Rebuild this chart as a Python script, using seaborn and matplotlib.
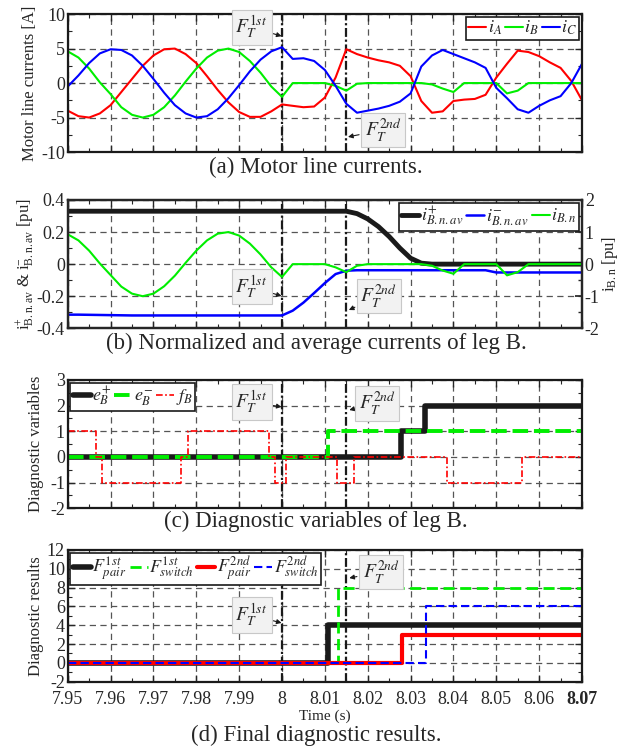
import numpy as np
import seaborn as sns
import matplotlib.pyplot as plt

sns.set_theme(style="ticks")
plt.rcParams['font.family'] = ['Liberation Serif', 'DejaVu Serif']
plt.rcParams['mathtext.fontset'] = 'stix'
plt.rcParams['axes.unicode_minus'] = False

# ---- datos ----
t = np.linspace(7.95, 8.07, 49)   # paso 2.5 ms

i_A = [-4.0, -4.8, -5.0, -4.4, -3.2, -1.3, 0.6, 2.5, 4.0, 4.9, 5.0, 4.2, 2.9, 1.0, -1.0, -2.8,
       -4.2, -4.9, -4.9, -4.1, -3.1,
       -3.3, -3.5, -3.4, -2.1, 0.8, 4.9, 4.2, 3.7, 3.3, 3.0, 2.5, 1.0, -2.6, -4.3, -4.1, -2.6,
       -2.4, -2.3, -1.7, 0.8, 2.8, 4.7, 4.5, 3.9, 3.0, 2.2, 0.3, -2.5]
i_B = [4.6, 3.7, 2.1, 0.1, -1.6, -3.5, -4.6, -5.0, -4.6, -3.5, -1.8, 0.2, 2.1, 3.7, 4.7, 5.0,
       4.5, 3.2, 1.5, -0.5, -2.0,
       0, 0, 0, 0, -0.4, -1.1, -0.1, 0, 0, 0, 0, 0, 0, -0.2, -0.8, -1.3,
       0, 0, 0, 0, -1.5, -1.1, 0, 0, 0, 0, 0, 0]
i_C = [-0.5, 1.1, 2.9, 4.3, 4.9, 4.8, 4.0, 2.5, 0.6, -1.4, -3.2, -4.4, -5.0, -4.8, -3.8, -2.2,
       -0.3, 1.7, 3.4, 4.6, 5.2,
       3.5, 3.6, 3.2, 1.9, -0.4, -3.0, -4.3, -4.0, -3.7, -3.3, -2.7, -1.5, 2.4, 4.0, 4.8, 4.2,
       3.6, 3.0, 2.2, -0.7, -2.2, -3.8, -4.3, -3.3, -2.5, -1.9, 0.0, 2.8]

i_pos_av = [0.33] * 21 + [0.33, 0.33, 0.33, 0.33, 0.33, 0.33, 0.315, 0.282, 0.234, 0.172, 0.10,
                          0.037, 0.006, 0.0, 0.0, 0.0, 0.0, 0.0, 0.0, 0.0, 0.0, 0.0, 0.0, 0.0,
                          0.0, 0.0, 0.0, 0.0]
i_neg_av = [-0.315, -0.315, -0.316, -0.317, -0.318, -0.319, -0.32, -0.32, -0.32, -0.32, -0.32,
            -0.32, -0.32, -0.32, -0.32, -0.32, -0.32, -0.32, -0.32, -0.32, -0.32,
            -0.29, -0.24, -0.18, -0.118, -0.062, -0.041, -0.038, -0.038, -0.038, -0.038, -0.038,
            -0.038, -0.038, -0.038, -0.038, -0.038, -0.038, -0.038, -0.038, -0.052, -0.052,
            -0.052, -0.052, -0.052, -0.052, -0.052, -0.052, -0.052]
i_Bn = [0.93, 0.74, 0.42, 0.02, -0.34, -0.70, -0.92, -1.0, -0.92, -0.69, -0.36, 0.04, 0.42,
        0.74, 0.95, 1.0, 0.89, 0.64, 0.30, -0.10, -0.40,
        0, 0, 0, 0, -0.1, -0.25, -0.05, 0, 0, 0, 0, 0, 0, -0.05, -0.2, -0.3,
        0, 0, 0, 0, -0.35, -0.25, 0, 0, 0, 0, 0, 0]

e_pos_t = [7.95, 8.0278, 8.0334, 8.07]
e_pos_v = [0, 1, 2, 2]
e_neg_t = [7.95, 8.0107, 8.07]
e_neg_v = [0, 1, 1]
f_B_t = [7.95, 7.9566, 7.958, 7.9765, 7.978, 7.997, 7.9983, 8.0009, 8.0128, 8.0167, 8.0384,
         8.0561, 8.07]
f_B_v = [1, 0, -1, 0, 1, 0, -1, 0, -1, 0, -1, 0, 0]

F1p_t, F1p_v = [7.95, 8.0107, 8.07], [0, 4, 4]
F1s_t, F1s_v = [7.95, 8.0130, 8.07], [0, 8, 8]
F2p_t, F2p_v = [7.95, 8.0281, 8.07], [0, 3, 3]
F2s_t, F2s_v = [7.95, 8.0337, 8.07], [0, 6, 6]

fault_t = [8.00, 8.015]
x_ticks = [7.95, 7.96, 7.97, 7.98, 7.99, 8.00, 8.01, 8.02, 8.03, 8.04, 8.05, 8.06, 8.07]
x_labels = ['7.95', '7.96', '7.97', '7.98', '7.99', '8', '8.01', '8.02', '8.03', '8.04',
            '8.05', '8.06', '8.07']

RED, GREEN, BLUE = '#ff0000', '#00ee00', '#0000ff'
GRID_LS = (0, (5, 3.5))


def estilo(ax, ylo, yhi, ymaj, ymin, right=True):
    ax.set_xlim(7.95, 8.07)
    ax.set_ylim(ylo, yhi)
    ax.set_xticks(x_ticks)
    ax.set_xticks(np.linspace(7.95, 8.07, 25), minor=True)
    ax.set_yticks(np.arange(ylo, yhi + ymaj / 2, ymaj))
    ax.set_yticks(np.arange(ylo, yhi + ymin / 2, ymin), minor=True)
    ax.tick_params(which='both', direction='in', top=True, right=right, labelsize=13,
                   pad=2)
    ax.tick_params(which='major', length=5, width=1)
    ax.tick_params(which='minor', length=3, width=0.8)
    ax.grid(True, which='major', color='#555555', ls=GRID_LS, lw=0.9)
    for s in ax.spines.values():
        s.set_linewidth(1.6)
        s.set_color('k')
    ax.set_xticklabels([])
    for ft in fault_t:
        ax.axvline(ft, color='k', lw=1.6, ls=(0, (4, 1.2, 1, 1.2)), zorder=1.5)


def marca(ax, txt, xy, xytext):
    ax.annotate(txt, xy=xy, xytext=xytext, fontsize=14, ha='center', va='center',
                bbox=dict(boxstyle='square,pad=0.2', fc='#f2f2f2', ec='#c8c8c8', lw=0.8),
                arrowprops=dict(arrowstyle='-|>', color='k', lw=0.8, mutation_scale=7,
                                shrinkA=1, shrinkB=0), zorder=6)


def leyenda(ax, handles, labels, loc, ncol):
    lg = ax.legend(handles, labels, loc=loc, ncol=ncol, fontsize=13, handlelength=1.0,
                   handletextpad=0.1, columnspacing=0.15, borderpad=0.12, borderaxespad=0.15,
                   fancybox=False, framealpha=1, edgecolor='k', labelspacing=0.1)
    lg.get_frame().set_linewidth(1.2)
    lg.set_zorder(7)


F1 = r'$F_T^{1st}$'
F2 = r'$F_T^{2nd}$'

fig = plt.figure(figsize=(6.23, 7.49), dpi=100)
L, W = 0.1087, 0.8255

# (a)
ax_a = fig.add_axes([L, 0.797, W, 0.1842])
sns.lineplot(x=t, y=i_A, ax=ax_a, color=RED, lw=1.5, label=r'$i_A$')
sns.lineplot(x=t, y=i_B, ax=ax_a, color=GREEN, lw=1.5, label=r'$i_B$')
sns.lineplot(x=t, y=i_C, ax=ax_a, color=BLUE, lw=1.5, label=r'$i_C$')
estilo(ax_a, -10, 10, 5, 2.5)
ax_a.set_ylabel('Motor line currents [A]', fontsize=12, labelpad=2)
h, l = ax_a.get_legend_handles_labels()
leyenda(ax_a, h, l, 'upper right', 3)
marca(ax_a, F1, (7.9999, 6.8), (7.9929, 8.1))
marca(ax_a, F2, (8.0154, -7.8), (8.0236, -6.8))

# (b)
ax_b = fig.add_axes([L, 0.5617, W, 0.1713])
sns.lineplot(x=t, y=i_pos_av, ax=ax_b, color='k', lw=3.5, label=r'$i^{+}_{B{.}n{.}av}$')
sns.lineplot(x=t, y=i_neg_av, ax=ax_b, color=BLUE, lw=1.8, label=r'$i^{-}_{B{.}n{.}av}$')
estilo(ax_b, -0.4, 0.4, 0.2, 0.1, right=False)
ax_b.set_yticklabels(['-0.4', '-0.2', '0', '0.2', '0.4'])
ax_b.set_ylabel(r'$\mathregular{i^{+}_{B{.}n{.}av}}$ & $\mathregular{i^{-}_{B{.}n{.}av}}$ [pu]',
                fontsize=12, labelpad=0)
ax_b2 = ax_b.twinx()
sns.lineplot(x=t, y=i_Bn, ax=ax_b2, color=GREEN, lw=1.5, label=r'$i_{B{.}n}$')
ax_b2.set_ylim(-2, 2)
ax_b2.set_yticks([-2, -1, 0, 1, 2])
ax_b2.set_yticks(np.arange(-2, 2.1, 0.5), minor=True)
ax_b2.tick_params(which='both', direction='in', labelsize=13, pad=2)
ax_b2.tick_params(which='major', length=5)
ax_b2.tick_params(which='minor', length=3)
ax_b2.set_ylabel(r'$\mathregular{i_{B{.}n}}$ [pu]', fontsize=12, labelpad=0)
ax_b2.grid(False)
for s in ax_b2.spines.values():
    s.set_linewidth(1.6)
h1, l1 = ax_b.get_legend_handles_labels()
h2, l2 = ax_b2.get_legend_handles_labels()
if ax_b.get_legend() is not None:
    ax_b.get_legend().remove()
leyenda(ax_b2, h1 + h2, l1 + l2, 'upper right', 3)
marca(ax_b2, F1, (7.9999, -0.199 * 5), (7.9929, -0.142 * 5))
marca(ax_b2, F2, (8.0156, -0.286 * 5), (8.0226, -0.199 * 5))

# (c)
ax_c = fig.add_axes([L, 0.3214, W, 0.1713])
sns.lineplot(x=e_pos_t, y=e_pos_v, ax=ax_c, color='k', lw=4, drawstyle='steps-post',
             label=r'$e^{+}_{B}$')
sns.lineplot(x=e_neg_t, y=e_neg_v, ax=ax_c, color=GREEN, lw=2.8, ls=(0, (4, 1.5)),
             drawstyle='steps-post', label=r'$e^{-}_{B}$')
sns.lineplot(x=f_B_t, y=f_B_v, ax=ax_c, color=RED, lw=1.2, ls=(0, (4, 1.5, 1, 1.5)),
             drawstyle='steps-post', label=r'$f_B$')
estilo(ax_c, -2, 3, 1, 0.5)
ax_c.set_ylabel('Diagnostic variables', fontsize=12, labelpad=4)
h, l = ax_c.get_legend_handles_labels()
leyenda(ax_c, h, l, 'upper left', 3)
marca(ax_c, F1, (7.9999, 1.95), (7.9929, 2.14))
marca(ax_c, F2, (8.0157, 1.83), (8.0222, 2.1))

# (d)
ax_d = fig.add_axes([L, 0.0899, W, 0.1758])
sns.lineplot(x=F1p_t, y=F1p_v, ax=ax_d, color='k', lw=4, drawstyle='steps-post',
             label=r'$F^{1st}_{pair}$')
sns.lineplot(x=F1s_t, y=F1s_v, ax=ax_d, color=GREEN, lw=2, ls=(0, (4, 2)),
             drawstyle='steps-post', label=r'$F^{1st}_{switch}$')
sns.lineplot(x=F2p_t, y=F2p_v, ax=ax_d, color=RED, lw=3, drawstyle='steps-post',
             label=r'$F^{2nd}_{pair}$')
sns.lineplot(x=F2s_t, y=F2s_v, ax=ax_d, color=BLUE, lw=1.5, ls=(0, (4, 2)),
             drawstyle='steps-post', label=r'$F^{2nd}_{switch}$')
estilo(ax_d, -2, 12, 2, 1)
ax_d.set_xticklabels(x_labels)
ax_d.get_xticklabels()[-1].set_fontweight('bold')
ax_d.tick_params(axis='x', pad=7)
ax_d.set_ylabel('Diagnostic results', fontsize=12, labelpad=2)
h, l = ax_d.get_legend_handles_labels()
leyenda(ax_d, h, l, 'upper left', 4)
marca(ax_d, F1, (7.9999, 4.24), (7.9929, 5.09))
marca(ax_d, F2, (8.0157, 9.02), (8.0231, 9.66))

fig.text(325 / 623, 1 - 716 / 749, 'Time (s)', ha='center', va='center', fontsize=11)

titulos = [('(a) Motor line currents.', 167),
           ('(b) Normalized and average currents of leg B.', 343),
           ('(c) Diagnostic variables of leg B.', 521),
           ('(d) Final diagnostic results.', 735)]
for txt, yp in titulos:
    fig.text(316 / 623, 1 - yp / 749, txt, ha='center', va='center', fontsize=16.5)

fig.savefig('out.png', dpi=100)
